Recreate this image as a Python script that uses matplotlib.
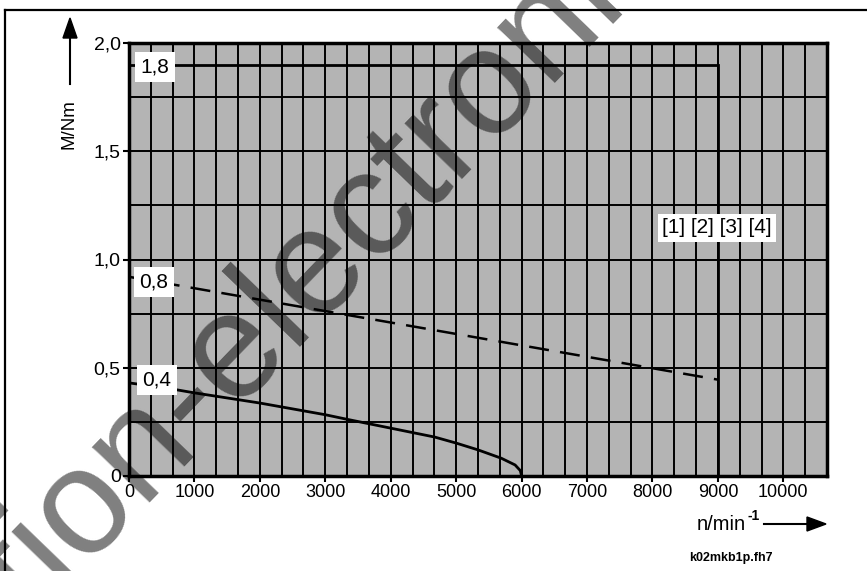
import numpy as np
import matplotlib
matplotlib.use("Agg")
import matplotlib.pyplot as plt
from matplotlib.lines import Line2D

plt.rcParams['font.family'] = ['Liberation Sans', 'DejaVu Sans']

# ---- data ----
speed_ticks = [0, 1000, 2000, 3000, 4000, 5000, 6000, 7000, 8000, 9000, 10000]
speed_tick_labels = ["0", "1000", "2000", "3000", "4000", "5000", "6000", "7000", "8000", "9000", "10000"]
torque_ticks = [0, 0.5, 1.0, 1.5, 2.0]
torque_tick_labels = ["0", "0,5", "1,0", "1,5", "2,0"]

# curve 1,8 (peak torque limit)
c18_speed = [0, 9000, 9000]
c18_torque = [1.9, 1.9, 0.0]

# curve 0,8 (dashed)
c08_speed = [0, 9000]
c08_torque = [0.92, 0.445]

# curve 0,4
c04_speed = [0, 500, 1000, 2000, 3000, 3330, 4000, 4670, 5000, 5330, 5690, 5900, 5980, 6000]
c04_torque = [0.43, 0.41, 0.384, 0.337, 0.283, 0.262, 0.221, 0.180, 0.152, 0.121, 0.082, 0.051, 0.025, 0.0]

curve_labels = ["1,8", "0,8", "0,4"]
curve_label_x = [397, 382, 428]
curve_label_y = [1.889, 0.896, 0.445]

legend_text = "[1] [2] [3] [4]"
legend_x, legend_y = 8986, 1.146

W, H = 867, 571
fig = plt.figure(figsize=(W / 100, H / 100), dpi=100)
ax = fig.add_axes([129 / W, 1 - 476 / H, (827 - 129) / W, (476 - 43) / H])
ax.set_facecolor('#b4b4b4')
ax.set_xlim(0, 10666.67)
ax.set_ylim(0, 2.0)

ax.set_xticks(speed_ticks)
ax.set_xticklabels(speed_tick_labels, fontsize=13)
ax.set_yticks(torque_ticks)
ax.set_yticklabels(torque_tick_labels, fontsize=14)
ax.set_xticks(np.arange(0, 10666, 1000 / 3), minor=True)
ax.set_yticks(np.arange(0, 2.01, 0.25), minor=True)
ax.tick_params(which='major', direction='out', length=4, width=1.5, pad=2, colors='black')
ax.tick_params(which='minor', length=0)
ax.grid(True, which='both', color='black', linewidth=1.4)
ax.set_axisbelow(True)
for s in ax.spines.values():
    s.set_linewidth(2.5)

ax.plot(c18_speed, c18_torque, color='black', lw=2.0, zorder=3, solid_joinstyle='miter')
ax.plot(c08_speed, c08_torque, color='black', lw=1.8, ls=(0, (8, 4.5)), zorder=3)
ax.plot(c04_speed, c04_torque, color='black', lw=2.0, zorder=3)

for t, x, y in zip(curve_labels, curve_label_x, curve_label_y):
    ax.text(x, y, t, ha='center', va='center', fontsize=15, zorder=5,
            bbox=dict(facecolor='white', edgecolor='none', pad=4))
ax.text(legend_x, legend_y, legend_text, ha='center', va='center', fontsize=15, zorder=5,
        bbox=dict(facecolor='white', edgecolor='none', pad=3))

# axis titles with arrows
fig.text(69 / W, 1 - 124 / H, "M/Nm", rotation=90, ha='center', va='center', fontsize=13.5)
fig.add_artist(Line2D([70 / W, 70 / W], [1 - 84 / H, 1 - 30 / H], color='black', lw=1.5))
fig.patches.append(plt.Polygon([[63 / W, 1 - 38 / H], [77 / W, 1 - 38 / H], [70 / W, 1 - 18 / H]],
                               closed=True, color='black', transform=fig.transFigure, figure=fig))

fig.text(746 / W, 1 - 530 / H, "n/min", ha='right', va='baseline', fontsize=14.5)
fig.text(747 / W, 1 - 520 / H, "-1", ha='left', va='baseline', fontsize=10, fontweight='bold')
fig.add_artist(Line2D([764 / W, 810 / W], [1 - 524 / H, 1 - 524 / H], color='black', lw=1.5))
fig.patches.append(plt.Polygon([[807 / W, 1 - 517 / H], [807 / W, 1 - 531 / H], [826 / W, 1 - 524 / H]],
                               closed=True, color='black', transform=fig.transFigure, figure=fig))

fig.text(731 / W, 1 - 558 / H, "k02mkb1p.fh7", ha='center', va='center', fontsize=9, fontweight='bold')

# outer frame (top and left)
fig.add_artist(Line2D([5 / W, 1.0], [1 - 10 / H, 1 - 10 / H], color='black', lw=1.6))
fig.add_artist(Line2D([5 / W, 5 / W], [0, 1 - 10 / H], color='black', lw=1.6))

# watermark
fig.text(33 / W, 1 - 621 / H, "tion-electronic", rotation=46, rotation_mode='anchor',
         ha='left', va='baseline', fontsize=108, color='black', alpha=0.5, zorder=10)

fig.savefig("out.png", dpi=100)
